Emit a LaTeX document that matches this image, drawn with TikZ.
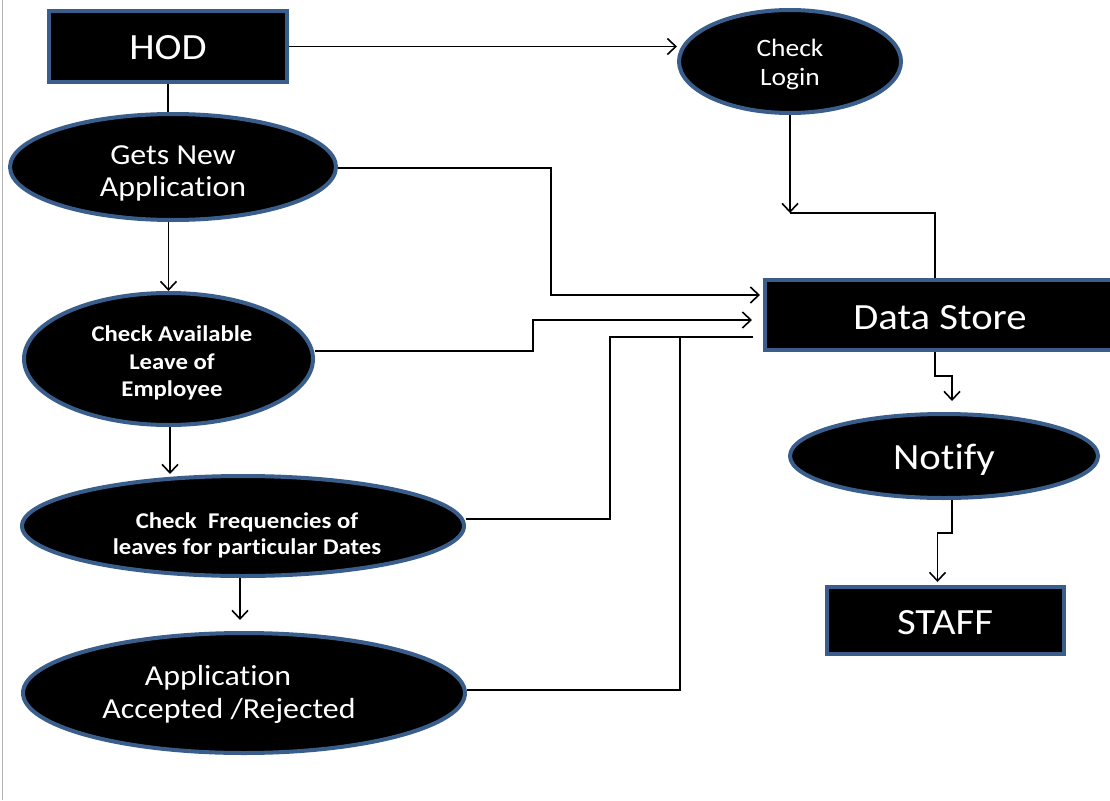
\documentclass[tikz,border=0pt]{standalone}
\usepackage{fontspec}
\setmainfont[FakeStretch=1.1,Ligatures=NoCommon]{Carlito}
\usetikzlibrary{shapes.geometric,arrows.meta,calc}
\definecolor{bord}{HTML}{3A5E8C}
\tikzset{
  shp/.style={draw=bord, line width=4pt, fill=black, inner sep=0pt},
  boxn/.style={shp, rectangle},
  elln/.style={shp, ellipse},
  txt/.style={text=white, align=center, inner sep=0pt},
  big/.style={font=\fontsize{37}{44}\selectfont},
  mid/.style={font=\fontsize{29}{32}\selectfont},
  conn/.style={line width=1.6pt, black},
  arr/.style={conn, -{Straight Barb[length=8.5pt,width=16pt,line width=1.6pt]}},
}
\begin{document}
\begin{tikzpicture}[x=1pt,y=-1pt]
\useasboundingbox (0,0) rectangle (1110,800);
\clip (0,0) rectangle (1110,800);
\draw[gray!60, line width=1pt] (2.5,0) -- (2.5,800);
% shapes
\node[boxn, minimum width=238pt, minimum height=71pt] (hod) at (168,46.5) {};
\node[elln, minimum width=326pt, minimum height=106pt] (gets) at (173,167) {};
\node[elln, minimum width=289pt, minimum height=132pt] (avail) at (168.5,359) {};
\node[elln, minimum width=442pt, minimum height=100pt] (freq) at (243,526) {};
\node[elln, minimum width=442pt, minimum height=120pt] (acc) at (244,693) {};
\node[elln, minimum width=222pt, minimum height=103pt] (login) at (790,61.5) {};
\node[boxn, minimum width=350pt, minimum height=70pt] (ds) at (940,315) {};
\node[elln, minimum width=308pt, minimum height=84pt] (notify) at (944,456) {};
\node[boxn, minimum width=237pt, minimum height=67pt] (staff) at (945.5,620.5) {};
% texts
\node[txt, big] (hodt) at (168,48) {HOD};
\node[txt, mid] (getst) at (173,173.5) {Gets New\\Application};
\node[txt, font=\fontsize{22.5}{27.5}\selectfont\bfseries] (availt) at (172,363) {Check Available\\Leave of\\Employee};
\node[txt, font=\fontsize{22.5}{26}\selectfont\bfseries] (freqt) at (247,535.5) {Check\ \ Frequencies of\\leaves for particular Dates};
\node[txt, font=\fontsize{29}{33}\selectfont] (acct) at (229,694) {\hspace*{-22pt}Application\\Accepted /Rejected};
\node[txt, font=\fontsize{25}{29}\selectfont] (logint) at (790,64.5) {Check\\Login};
\node[txt, big] (dst) at (940,317.5) {Data Store};
\node[txt, big] (notifyt) at (944,459.5) {Notify};
\node[txt, big] (stafft) at (945,622.5) {STAFF};
% connectors
\coordinate (j1) at (790,213);
\coordinate (j2) at (680,337);
\draw[conn] (hod.south) -- (hod.south |- gets.north);
\draw[arr] (hod.east) -- (hod.east -| login.west);
\draw[arr] (login.south) -- (j1);
\draw[conn] (j1) -| ([xshift=-5pt]ds.north);
\draw[arr] ([yshift=-1pt]gets.east) -- ++(213,0) |- ([xshift=-3pt,yshift=20pt]ds.west);
\draw[arr] ([yshift=8pt]avail.east) -- ++(218,0) |- ([xshift=-11pt,yshift=-5pt]ds.west);
\draw[conn] ([yshift=7pt]freq.east) -- ++(144,0) |- ([xshift=-10pt,yshift=-22pt]ds.west);
\draw[conn] ([yshift=3pt]acc.east) -| (j2);
\draw[arr] (avail.north |- gets.south) -- (avail.north);
\draw[arr] ([xshift=1.5pt]avail.south) -- ([xshift=1.5pt]avail.south |- freq.north);
\draw[arr] ([xshift=-3pt]freq.south) -- ([xshift=-3pt,yshift=11pt]freq.south |- acc.north);
\draw[arr] ([xshift=-5pt]ds.south) -- ++(0,24) -| ([xshift=8pt,yshift=11pt]notify.north);
\draw[arr] ([xshift=8pt]notify.south) -- ++(0,33) -| ([xshift=-8pt,yshift=3pt]staff.north);
\end{tikzpicture}
\end{document}
